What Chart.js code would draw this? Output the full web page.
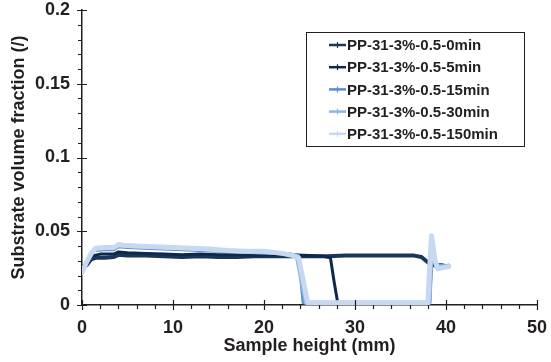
<!DOCTYPE html>
<html>
<head>
<meta charset="utf-8">
<script src="https://cdn.jsdelivr.net/npm/chart.js@4.4.1/dist/chart.umd.min.js"></script>
<style>
  html, body { margin: 0; padding: 0; background: #ffffff; }
  #wrap { width: 551px; height: 362px; }
</style>
</head>
<body>
<div id="wrap"><canvas id="c" width="551" height="362"></canvas></div>
<script>
// Substrate volume fraction profiles along the sample height, one per soaking time.
const seriesLabels = [
  'PP-31-3%-0.5-0min',
  'PP-31-3%-0.5-5min',
  'PP-31-3%-0.5-15min',
  'PP-31-3%-0.5-30min',
  'PP-31-3%-0.5-150min'
];

const height_0min   = [0, 0.5, 1.0, 1.5, 2.5, 3.5, 4.0, 5, 7, 9, 11, 13, 15, 17, 19, 21, 23, 25, 27, 29, 31, 33, 35, 36.5, 37.3, 38.0, 38.5, 39.5, 40.3];
const fraction_0min = [0.026, 0.027, 0.031, 0.032, 0.032, 0.0325, 0.034, 0.0335, 0.0335, 0.033, 0.0325, 0.033, 0.0325, 0.0325, 0.033, 0.033, 0.033, 0.033, 0.033, 0.0335, 0.0335, 0.0335, 0.0335, 0.0335, 0.0325, 0.029, 0.027, 0.027, 0.026];

const height_5min   = [0, 0.5, 1.0, 2.0, 3.5, 4.0, 5, 7, 9, 11, 13, 15, 17, 19, 21, 23, 25, 26.5, 27.3, 27.7, 28.1, 30, 34, 38.2, 38.5, 39.0, 40.3];
const fraction_5min = [0.025, 0.028, 0.033, 0.0345, 0.0345, 0.036, 0.0355, 0.035, 0.0345, 0.034, 0.0345, 0.034, 0.034, 0.0335, 0.034, 0.034, 0.0335, 0.033, 0.032, 0.016, 0.0015, 0.0015, 0.0015, 0.0015, 0.040, 0.026, 0.027];

const height_15min   = [0, 0.5, 1.3, 2.5, 3.5, 4.0, 5, 7, 9, 11, 13, 15, 17, 19, 21, 23, 23.8, 24.3, 26, 30, 34, 38.2, 38.4, 38.9, 40.3];
const fraction_15min = [0.022, 0.028, 0.037, 0.0375, 0.0375, 0.0395, 0.039, 0.0385, 0.038, 0.0375, 0.037, 0.0365, 0.036, 0.0355, 0.035, 0.0345, 0.0335, 0.0015, 0.0015, 0.0015, 0.0015, 0.0015, 0.044, 0.027, 0.0265];

const height_30min   = [0, 0.5, 1.4, 2.5, 3.5, 4.0, 5, 7, 9, 11, 13, 15, 17, 19, 21, 23, 23.6, 24.6, 26, 30, 34, 38.2, 38.45, 38.9, 40.3];
const fraction_30min = [0.0225, 0.029, 0.038, 0.0385, 0.0385, 0.0405, 0.04, 0.0395, 0.039, 0.0385, 0.038, 0.037, 0.0365, 0.036, 0.0355, 0.034, 0.033, 0.0015, 0.0015, 0.0015, 0.0015, 0.0015, 0.045, 0.026, 0.0265];

const height_150min   = [0, 0.5, 1.0, 1.5, 2.5, 3.5, 4.0, 4.5, 6, 8, 10, 12, 14, 16, 18, 20, 22, 23.2, 23.8, 24.8, 30, 34, 38.0, 38.4, 38.8, 39.1, 40.3];
const fraction_150min = [0.022, 0.029, 0.035, 0.0385, 0.039, 0.039, 0.041, 0.0405, 0.040, 0.0395, 0.039, 0.0385, 0.038, 0.037, 0.0365, 0.0365, 0.035, 0.0335, 0.032, 0.0015, 0.0015, 0.0015, 0.0015, 0.047, 0.030, 0.0245, 0.026];

const seriesHeights   = [height_0min, height_5min, height_15min, height_30min, height_150min];
const seriesFractions = [fraction_0min, fraction_5min, fraction_15min, fraction_30min, fraction_150min];
const seriesColors    = ['#1b3659', '#10294a', '#558ed5', '#8eb4e3', '#c6d9f1'];
const seriesWidths    = [4, 3, 3, 4, 5];

const xTickLabels = ['0', '10', '20', '30', '40', '50'];
const yTickLabels = ['0', '0.05', '0.1', '0.15', '0.2'];

const FONT = '"Liberation Sans", Arial, Helvetica, sans-serif';
const INK = '#231f20';

const datasets = seriesLabels.map((label, i) => ({
  label: label,
  data: seriesHeights[i].map((h, k) => ({ x: h, y: seriesFractions[i][k] })),
  borderColor: seriesColors[i],
  backgroundColor: seriesColors[i],
  borderWidth: seriesWidths[i],
  borderJoinStyle: 'round',
  borderCapStyle: 'round',
  pointRadius: 0,
  tension: 0,
  order: seriesLabels.length - i   // later soaking times are painted on top
}));

// Axis tick marks: major ticks cross the axis line, minor ticks point outward.
const axisTicks = {
  id: 'axisTicks',
  afterDraw(chart) {
    const { ctx, chartArea } = chart;
    const xs = chart.scales.x, ys = chart.scales.y;
    const x0 = chartArea.left, y0 = chartArea.bottom;
    ctx.save();
    ctx.strokeStyle = INK;
    ctx.lineWidth = 1.2;
    ctx.beginPath();
    for (let v = 0; v <= 50; v += 2) {
      const px = Math.round(xs.getPixelForValue(v)) + 0.5;
      if (v % 10 === 0) { ctx.moveTo(px, y0 - 5); ctx.lineTo(px, y0 + 5); }
      else { ctx.moveTo(px, y0); ctx.lineTo(px, y0 + 4); }
    }
    for (let k = 0; k <= 20; k++) {
      const py = Math.round(ys.getPixelForValue(k * 0.01)) + 0.5;
      if (k % 5 === 0) { ctx.moveTo(x0 - 5, py); ctx.lineTo(x0 + 5, py); }
      else { ctx.moveTo(x0 - 4, py); ctx.lineTo(x0, py); }
    }
    ctx.stroke();
    ctx.restore();
  }
};

// Boxed legend inside the plot area.
const boxedLegend = {
  id: 'boxedLegend',
  afterDraw(chart) {
    const { ctx, chartArea } = chart;
    const left = chartArea.left + 224, top = chartArea.top + 22;
    const w = 218, h = 114;
    ctx.save();
    ctx.fillStyle = '#ffffff';
    ctx.fillRect(left, top, w, h);
    ctx.strokeStyle = INK;
    ctx.lineWidth = 1;
    ctx.strokeRect(left + 0.5, top + 0.5, w, h);
    ctx.font = 'bold 15px ' + FONT;
    ctx.textBaseline = 'middle';
    ctx.textAlign = 'left';
    seriesLabels.forEach((label, i) => {
      const cy = top + 13 + i * 22.2;
      const lx = left + 23;
      ctx.strokeStyle = seriesColors[i];
      ctx.lineWidth = 2.5;
      ctx.beginPath();
      ctx.moveTo(lx, cy);
      ctx.lineTo(lx + 17, cy);
      ctx.stroke();
      ctx.lineWidth = 1.2;
      ctx.beginPath();
      ctx.moveTo(lx + 8.5, cy - 3);
      ctx.lineTo(lx + 8.5, cy + 3);
      ctx.stroke();
      ctx.fillStyle = INK;
      ctx.fillText(label, lx + 18, cy + 1);
    });
    ctx.restore();
  }
};

new Chart(document.getElementById('c'), {
  type: 'line',
  data: { datasets: datasets },
  plugins: [axisTicks, boxedLegend],
  options: {
    responsive: false,
    animation: false,
    devicePixelRatio: 1,
    layout: { padding: { top: 10, right: 14, left: 0, bottom: 0 } },
    plugins: { legend: { display: false }, tooltip: { enabled: false } },
    scales: {
      x: {
        type: 'linear',
        min: 0, max: 50,
        afterFit(scale) {
          scale.height = 57;
          scale.paddingLeft = 0;
          scale.paddingRight = 0;
        },
        grid: { display: false, drawTicks: false },
        border: { display: true, color: INK, width: 1.5 },
        ticks: {
          stepSize: 10,
          padding: 12,
          color: INK,
          font: { family: FONT, size: 18, weight: 'bold' },
          maxRotation: 0,
          callback: (v) => xTickLabels[Math.round(v / 10)]
        },
        title: {
          display: true,
          text: 'Sample height (mm)',
          color: INK,
          font: { family: FONT, size: 18, weight: 'bold' },
          padding: { top: 0, bottom: 5 }
        }
      },
      y: {
        type: 'linear',
        min: 0, max: 0.2,
        afterFit(scale) {
          scale.width = 82;
          scale.paddingTop = 0;
          scale.paddingBottom = 0;
        },
        grid: { display: false, drawTicks: false },
        border: { display: true, color: INK, width: 1.5 },
        ticks: {
          stepSize: 0.05,
          padding: 12,
          color: INK,
          font: { family: FONT, size: 18, weight: 'bold' },
          callback: (v) => yTickLabels[Math.round(v / 0.05)]
        },
        title: {
          display: true,
          text: 'Substrate volume fraction (/)',
          color: INK,
          font: { family: FONT, size: 18, weight: 'bold' },
          padding: { top: 8, bottom: 0 }
        }
      }
    }
  }
});
</script>
</body>
</html>
